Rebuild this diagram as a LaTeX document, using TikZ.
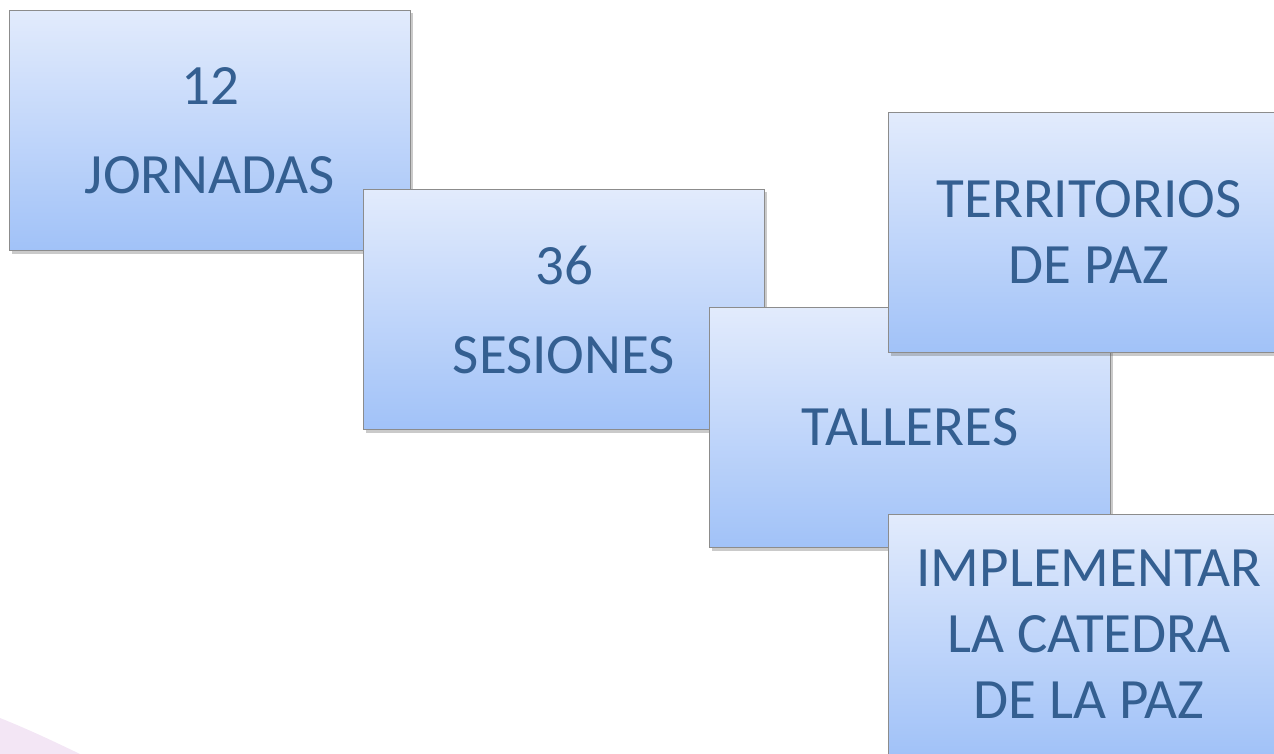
\documentclass[tikz,border=0pt]{standalone}
\usepackage{fontspec}
\setmainfont{Carlito}
\usetikzlibrary{shadows}
\definecolor{textoazul}{RGB}{52,95,145}
\definecolor{cajaarriba}{RGB}{226,235,252}
\definecolor{cajaabajo}{RGB}{161,194,248}
\definecolor{borde}{RGB}{140,140,140}
\definecolor{lila}{RGB}{243,230,245}
\tikzset{
  caja/.style={rectangle, anchor=north west, minimum width=401pt, minimum height=240pt,
    top color=cajaarriba, bottom color=cajaabajo, draw=borde, line width=1pt,
    text=textoazul, align=center, font=\fontsize{57}{66}\selectfont, inner sep=0pt,
    drop shadow={shadow xshift=2pt, shadow yshift=-3pt, opacity=0.35, fill=black!60}}
}
\begin{document}
\begin{tikzpicture}[x=1pt, y=-1pt]
  % Fondo
  \useasboundingbox (0,0) rectangle (1274,754);
  \clip (0,0) rectangle (1274,754);
  \fill[lila] (0,718) .. controls (30,730) and (55,742) .. (80,754) -- (0,754) -- cycle;

  % Cajas
  \node[caja] (jornadas) at (9,10) {12\\[23pt]JORNADAS};
  \node[caja] (sesiones) at (363,189) {36\\[23pt]SESIONES};
  \node[caja] (talleres) at (709,307) {TALLERES};
  \node[caja] (territorios) at (888,112) {TERRITORIOS\\DE PAZ};
  \node[caja] (catedra) at (888,514) {IMPLEMENTAR\\LA CATEDRA\\DE LA PAZ};
\end{tikzpicture}
\end{document}
